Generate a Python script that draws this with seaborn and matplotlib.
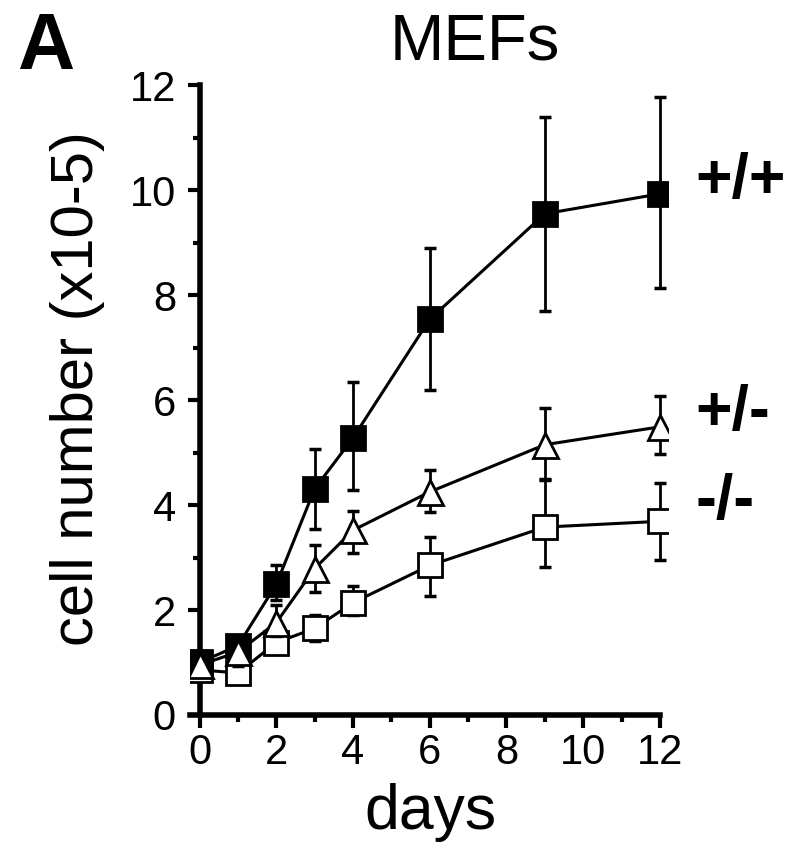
import matplotlib
matplotlib.use("Agg")
import matplotlib.pyplot as plt
import seaborn as sns
import numpy as np
import pandas as pd
from matplotlib.ticker import MultipleLocator

days = [0, 1, 2, 3, 4, 6, 9, 12]

wt_mean = [1.0, 1.32, 2.49, 4.31, 5.28, 7.54, 9.55, 9.93]
wt_upper = [1.1, 1.45, 2.85, 5.07, 6.35, 8.9, 11.39, 11.77]
wt_lower = [0.9, 0.94, 2.2, 3.54, 4.29, 6.2, 7.69, 8.13]

het_mean = [0.95, 1.2, 1.76, 2.79, 3.52, 4.25, 5.15, 5.49]
het_upper = [1.05, 1.3, 2.1, 3.23, 3.89, 4.67, 5.84, 6.07]
het_lower = [0.85, 1.1, 1.5, 2.35, 3.08, 3.87, 4.48, 4.98]

ko_mean = [0.86, 0.8, 1.38, 1.65, 2.14, 2.85, 3.58, 3.69]
ko_upper = [0.95, 0.9, 1.5, 1.9, 2.45, 3.39, 4.5, 4.42]
ko_lower = [0.78, 0.72, 1.25, 1.4, 1.9, 2.26, 2.81, 2.95]

series_labels = ["+/+", "+/-", "-/-"]
tick_vals = [0, 2, 4, 6, 8, 10, 12]

sns.set_theme(style="ticks")
plt.rcParams['font.family'] = ['Liberation Sans', 'DejaVu Sans']

fig = plt.figure(figsize=(8, 8.58), dpi=100)
ax = fig.add_axes([0.2375, 0.1667, 0.597, 0.734])

series = [
    (wt_mean, wt_upper, wt_lower, "s", "black", 17, 4),
    (het_mean, het_upper, het_lower, "^", "white", 18, 5),
    (ko_mean, ko_upper, ko_lower, "s", "white", 17, 3),
]

for mean, up, lo, mk, fc, ms, z in series:
    m = np.array(mean); u = np.array(up); l = np.array(lo)
    ax.errorbar(days, m, yerr=[m - l, u - m], fmt="none", ecolor="black",
                elinewidth=2, capsize=4, capthick=2.5, zorder=z - 0.5)
    df = pd.DataFrame({"day": days, "n": mean})
    sns.lineplot(data=df, x="day", y="n", ax=ax, color="black", linewidth=2.2,
                 marker=mk, markersize=ms, markerfacecolor=fc,
                 markeredgecolor="black", markeredgewidth=2, zorder=z)

ax.set_xticks(tick_vals)
ax.set_xticklabels([str(v) for v in tick_vals])
ax.set_yticks(tick_vals)
ax.set_yticklabels([str(v) for v in tick_vals])
ax.xaxis.set_minor_locator(MultipleLocator(1))
ax.yaxis.set_minor_locator(MultipleLocator(1))
ax.set_xlim(-0.25, 12.2)
ax.set_ylim(0, 12)
ax.spines["left"].set_position(("data", 0))
ax.spines["left"].set_bounds(0, 12)
ax.spines["bottom"].set_bounds(-0.25, 12)
for s in ["top", "right"]:
    ax.spines[s].set_visible(False)
for s in ["left", "bottom"]:
    ax.spines[s].set_linewidth(4)
    ax.spines[s].set_color("black")
    ax.spines[s].set_zorder(2)

ax.tick_params(which="major", length=9, width=3, color="black",
               labelsize=30, labelcolor="black")
ax.tick_params(which="minor", length=5, width=3, color="black")
ax.tick_params(axis="y", which="major", pad=8)
ax.tick_params(axis="x", which="major", pad=4)

ax.set_xlabel("days", fontsize=45, color="black")
ax.set_ylabel("cell number (x10-5)", fontsize=43, color="black")
ax.yaxis.set_label_coords(-0.1786, 0.519)
ax.xaxis.set_label_coords((430 - 190) / 477.7, -0.108)

fig.text(475 / 800, 1 - 13 / 858, "MEFs", fontsize=47, color="black",
         va="top", ha="center")
fig.text(17 / 800, 1 - 11 / 858, "A", fontsize=57, fontweight="bold", color="black",
         va="top", ha="left")

label_off = [0.24, 0.26, 0.35]
label_y = [wt_mean[-1], het_mean[-1], ko_mean[-1]]
for lab, yv, off in zip(series_labels, label_y, label_off):
    ax.text(12.92, yv + off, lab, fontsize=45, fontweight="bold", color="black",
            va="center", ha="left", clip_on=False)

fig.savefig("out.png", dpi=100, facecolor="white")
